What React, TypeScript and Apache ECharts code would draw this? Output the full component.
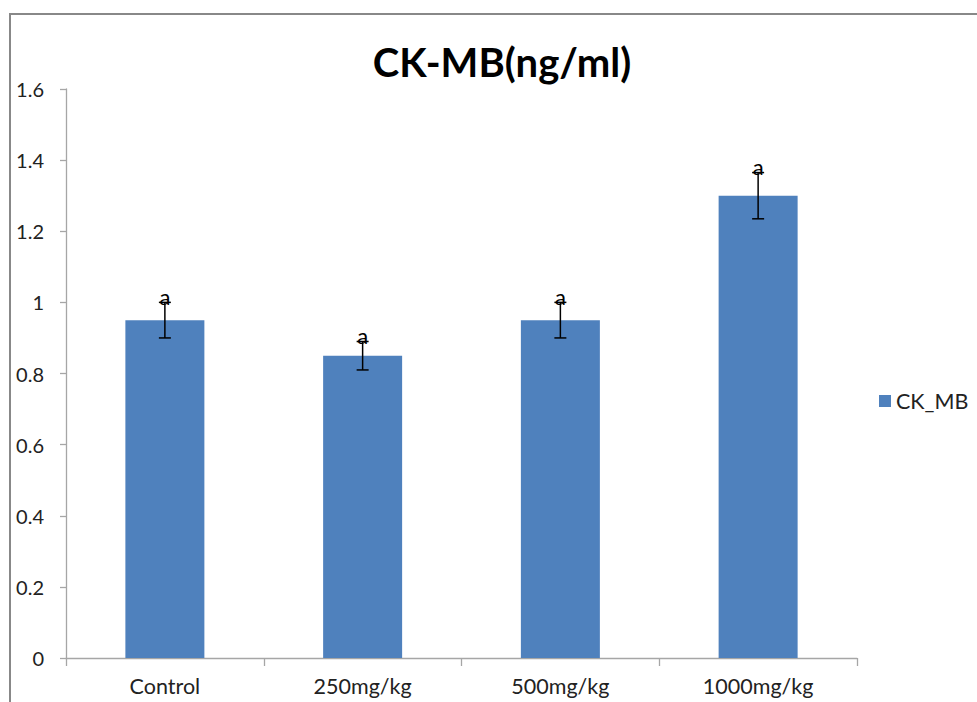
import React, { useEffect, useRef } from "react";
import * as echarts from "echarts";

const categories = ["Control", "250mg/kg", "500mg/kg", "1000mg/kg"];
const values = [0.95, 0.85, 0.95, 1.3];
const errors = [0.05, 0.04, 0.05, 0.065];
const letters = ["a", "a", "a", "a"];
const yTicks = { min: 0, max: 1.6, interval: 0.2 };

const FONT = "Lato, 'Open Sans', sans-serif";

export default function App() {
  const ref = useRef<HTMLDivElement>(null);
  useEffect(() => {
    if (!ref.current) return;
    const chart = echarts.init(ref.current, null, { renderer: "svg" });
    const errData = values.map((v, i) => [i, v, errors[i], letters[i]]);
    chart.setOption({
      animation: false,
      backgroundColor: "#ffffff",
      title: {
        text: "CK-MB(ng/ml)",
        left: 497,
        top: 37,
        textAlign: "center",
        textStyle: { fontFamily: FONT, fontSize: 40, fontWeight: "bold", color: "#000" },
      },
      graphic: [
        {
          type: "rect",
          shape: { x: 10, y: 14, width: 1100, height: 1000 },
          style: { fill: "none", stroke: "#888888", lineWidth: 2 },
          silent: true,
          z: -1,
        },
      ],
      legend: {
        data: ["CK_MB"],
        left: 874,
        top: 385,
        orient: "vertical",
        icon: "rect",
        itemWidth: 12,
        itemHeight: 12,
        itemGap: 5,
        textStyle: { fontFamily: FONT, fontSize: 21.5, color: "#222" },
      },
      grid: { left: 66, right: 120, top: 89, bottom: 44, containLabel: false },
      xAxis: {
        type: "category",
        data: categories,
        boundaryGap: true,
        axisLine: { lineStyle: { color: "#A6A6A6", width: 1.3 } },
        axisTick: { show: true, length: 8, lineStyle: { color: "#A6A6A6", width: 1.3 } },
        axisLabel: { fontFamily: FONT, fontSize: 21.5, color: "#222", margin: 17 },
        splitLine: { show: false },
      },
      yAxis: {
        type: "value",
        min: yTicks.min,
        max: yTicks.max,
        interval: yTicks.interval,
        axisLine: { show: true, lineStyle: { color: "#A6A6A6", width: 1.3 } },
        axisTick: { show: true, length: 6, lineStyle: { color: "#A6A6A6", width: 1.3 } },
        axisLabel: { fontFamily: FONT, fontSize: 20, color: "#222", margin: 22 },
        splitLine: { show: false },
      },
      series: [
        {
          name: "CK_MB",
          type: "bar",
          data: values,
          barWidth: 79,
          itemStyle: { color: "#4F81BD" },
        },
        {
          name: "err",
          type: "custom",
          data: errData,
          z: 10,
          renderItem: (params: any, api: any) => {
            const i = api.value(0);
            const v = api.value(1);
            const e = api.value(2);
            const top = api.coord([i, v + e]);
            const bot = api.coord([i, v - e]);
            const x = top[0];
            const hw = 6;
            const style = { stroke: "#000", lineWidth: 1.5 };
            return {
              type: "group",
              children: [
                { type: "line", shape: { x1: x, y1: top[1], x2: x, y2: bot[1] }, style },
                { type: "line", shape: { x1: x - hw, y1: top[1], x2: x + hw, y2: top[1] }, style },
                { type: "line", shape: { x1: x - hw, y1: bot[1], x2: x + hw, y2: bot[1] }, style },
                {
                  type: "text",
                  x: x,
                  y: top[1] + 5,
                  style: {
                    text: letters[params.dataIndex],
                    fontFamily: FONT,
                    fontSize: 22,
                    fill: "#000",
                    align: "center",
                    verticalAlign: "bottom",
                  },
                },
              ],
            };
          },
        },
      ],
    });
    return () => chart.dispose();
  }, []);
  return (
    <div
      ref={ref}
      style={{ position: "fixed", left: 0, top: 0, width: 977, height: 702 }}
    />
  );
}
